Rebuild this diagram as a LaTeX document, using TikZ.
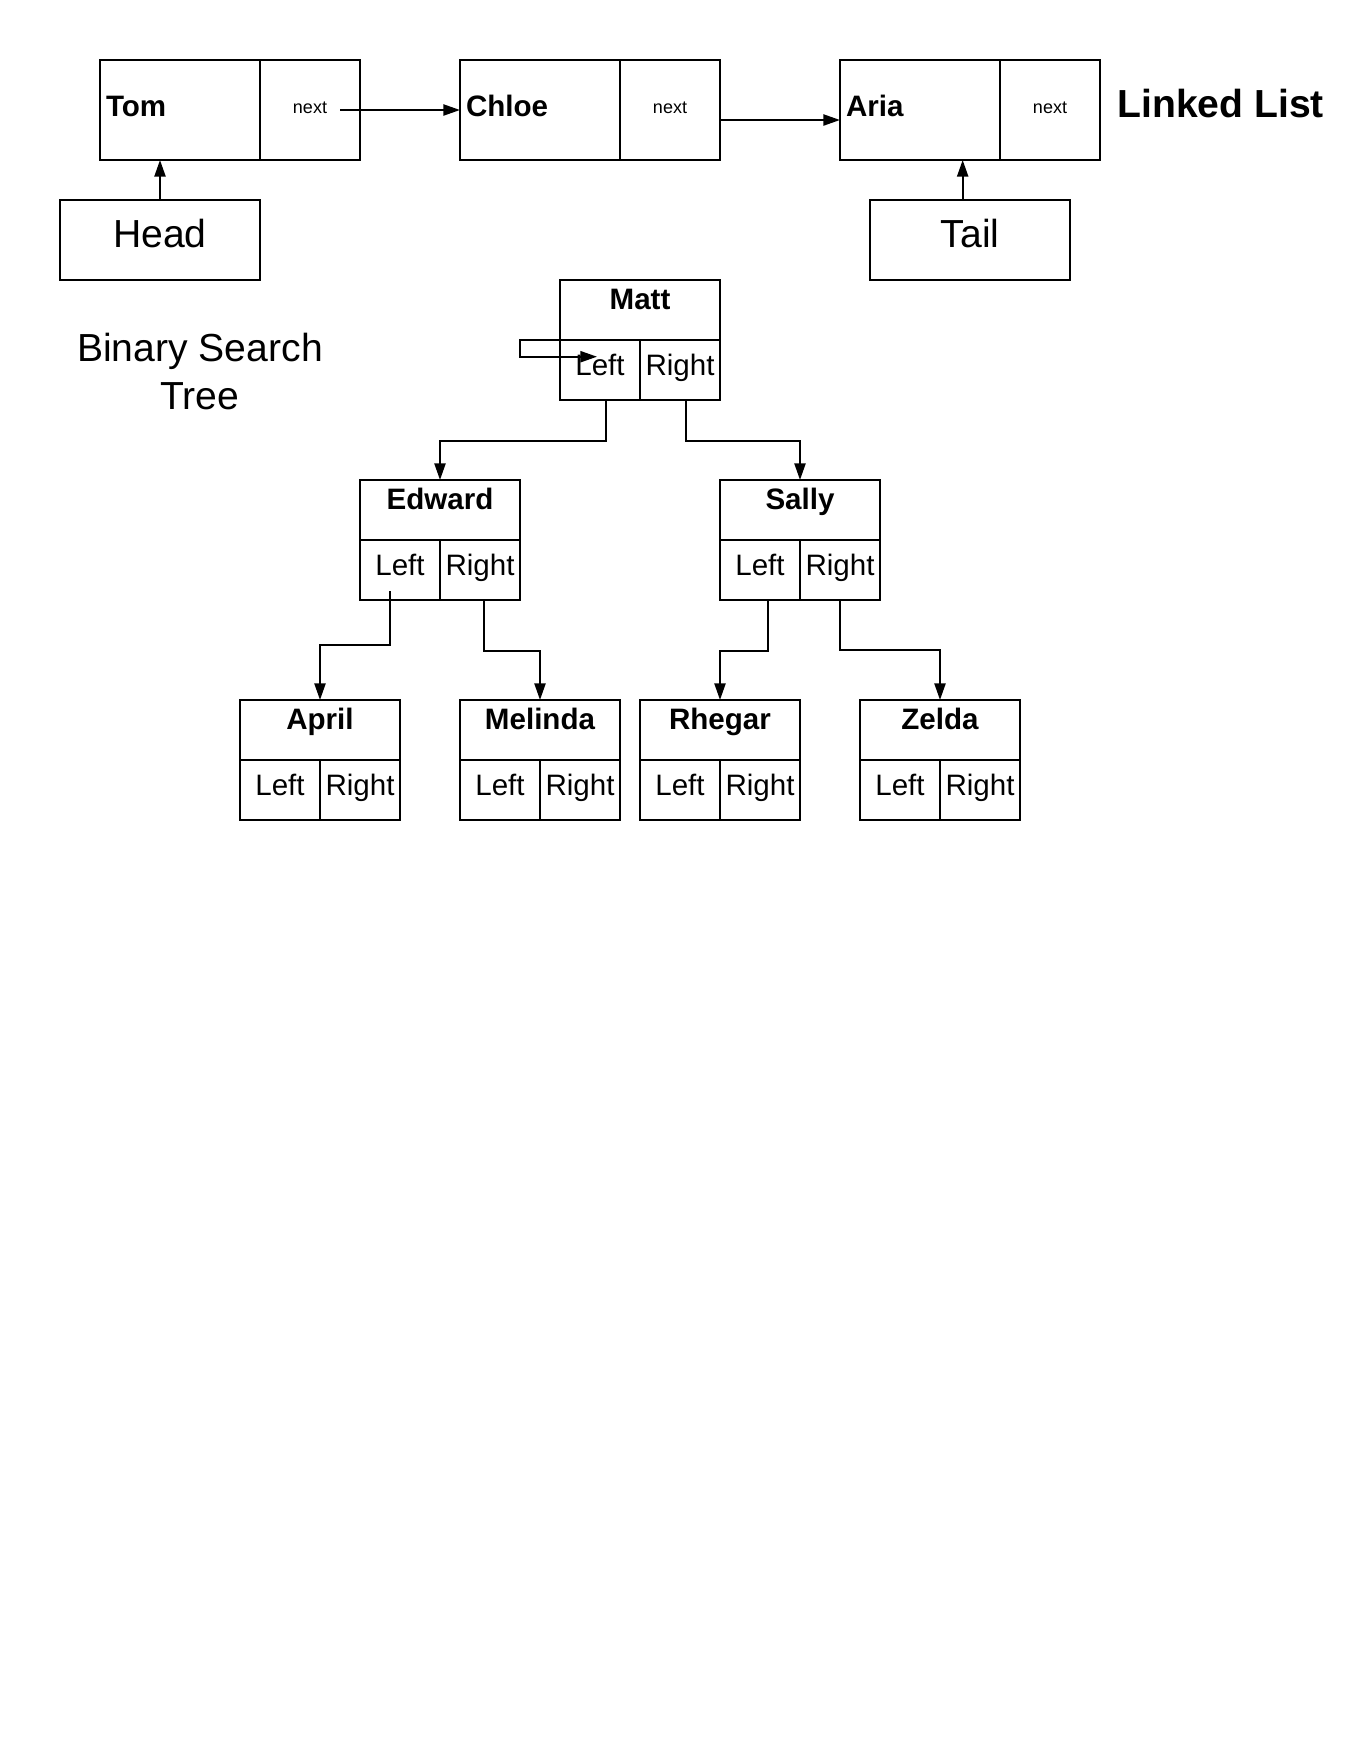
\documentclass[tikz,border=0pt]{standalone}
\usepackage{fontspec}
\setmainfont{Liberation Sans}
\usetikzlibrary{arrows.meta}
\tikzset{
  cell/.style={draw, line width=.9pt, inner sep=0pt, outer sep=0pt},
  datacell/.style={cell, minimum width=72pt, minimum height=45pt, inner xsep=2.7pt,
    text width=66.6pt, align=left, font=\fontsize{13.3}{16}\selectfont\bfseries,
    text height=10pt, text depth=4.6pt},
  nextcell/.style={cell, minimum width=45pt, minimum height=45pt,
    font=\fontsize{8.1}{10}\selectfont, text height=6pt, text depth=3pt},
  ptrbox/.style={cell, minimum width=90pt, minimum height=36pt,
    font=\fontsize{17.6}{21}\selectfont, text height=12pt, text depth=5.4pt},
  namecell/.style={cell, minimum width=72pt, minimum height=27pt,
    font=\fontsize{13.3}{16}\selectfont\bfseries, text height=6pt, text depth=6.6pt},
  childcell/.style={cell, minimum width=36pt, minimum height=27pt,
    font=\fontsize{13.3}{16}\selectfont, text height=9.5pt, text depth=4.5pt},
  ptr/.style={line width=.9pt, -{Triangle[length=7.5pt,width=5pt]}}
}
\begin{document}
\begin{tikzpicture}[x=0.45pt,y=-0.45pt]
\useasboundingbox (0,0) rectangle (1360,1760);

\node (tom) at (180,110) [datacell] {Tom};
\node (tomnext) at (310,110) [nextcell] {next};
\node (chloe) at (540,110) [datacell] {Chloe};
\node (chloenext) at (670,110) [nextcell] {next};
\node (aria) at (920,110) [datacell] {Aria};
\node (arianext) at (1050,110) [nextcell] {next};
\node (head) at (160,240) [ptrbox] {Head};
\node (tail) at (970,240) [ptrbox] {Tail};
\node (lltitle) at (1117,117) [anchor=base west, inner sep=0pt, font=\fontsize{17.6}{21}\selectfont\bfseries] {Linked List};
\node (bsttitle) at (200,409.3) [anchor=base, inner sep=0pt, align=center, font=\fontsize{17.6}{21.4}\selectfont] {Binary Search\\Tree};

\coordinate (tomptr) at (340,110);
\draw[ptr] (tomptr) -- (chloe.west);
\draw[ptr] ([yshift=-4.5pt]chloenext.east) -- ([yshift=-4.5pt]aria.west);
\draw[ptr] (head.north) -- (head.north |- tom.south);
\draw[ptr] ([xshift=-3.3pt]tail.north) -- ([xshift=-3.3pt]tail.north |- aria.south);

\node (matt) at (640,310) [namecell] {Matt};
\node (mattL) at (600,370) [childcell] {Left};
\node (mattR) at (680,370) [childcell] {Right};
\node (edward) at (440,510) [namecell] {Edward};
\node (edwardL) at (400,570) [childcell] {Left};
\node (edwardR) at (480,570) [childcell] {Right};
\node (sally) at (800,510) [namecell] {Sally};
\node (sallyL) at (760,570) [childcell] {Left};
\node (sallyR) at (840,570) [childcell] {Right};
\node (april) at (320,730) [namecell] {April};
\node (aprilL) at (280,790) [childcell] {Left};
\node (aprilR) at (360,790) [childcell] {Right};
\node (melinda) at (540,730) [namecell] {Melinda};
\node (melindaL) at (500,790) [childcell] {Left};
\node (melindaR) at (580,790) [childcell] {Right};
\node (rhegar) at (720,730) [namecell] {Rhegar};
\node (rhegarL) at (680,790) [childcell] {Left};
\node (rhegarR) at (760,790) [childcell] {Right};
\node (zelda) at (940,730) [namecell] {Zelda};
\node (zeldaL) at (900,790) [childcell] {Left};
\node (zeldaR) at (980,790) [childcell] {Right};

\draw[ptr] (matt.south west) -- ++(-40,0) -- ++(0,16.7) -- ++(77,0);
\draw[ptr] ([xshift=2.7pt]mattL.south) -- ++(0,41) -| (edward.north);
\draw[ptr] ([xshift=2.6pt]mattR.south) -- ++(0,41) -| (sally.north);
\coordinate (edwardLptr) at (390,591);
\draw[ptr] (edwardLptr) -- ++(0,54) -| (april.north);
\draw[ptr] ([xshift=1.8pt]edwardR.south) -- ++(0,50.7) -| (melinda.north);
\draw[ptr] ([xshift=3.5pt]sallyL.south) -- ++(0,50.7) -| (rhegar.north);
\draw[ptr] (sallyR.south) -- ++(0,50) -| (zelda.north);
\end{tikzpicture}
\end{document}
